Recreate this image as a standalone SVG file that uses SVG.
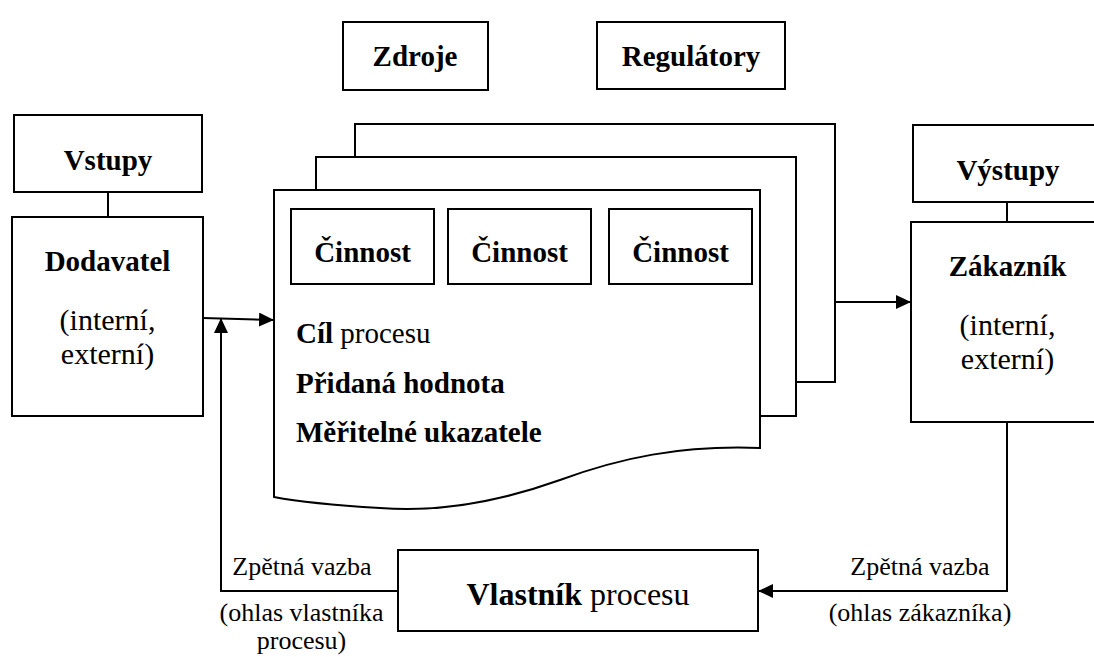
<svg xmlns="http://www.w3.org/2000/svg" width="1094" height="657" viewBox="0 0 1094 657">
<style>
.box{fill:#fff;stroke:#000;stroke-width:2}
.ln{fill:none;stroke:#000;stroke-width:2}
.b{font-family:"Liberation Serif",serif;font-weight:bold;font-size:29px}
.r{font-family:"Liberation Serif",serif;font-size:30px}
.s{font-family:"Liberation Serif",serif;font-size:26px}
.c{text-anchor:middle}
</style>
<defs>
<marker id="ah" markerUnits="userSpaceOnUse" markerWidth="16" markerHeight="14" refX="15" refY="7" orient="auto">
<path d="M0,0 L15,7 L0,14 Z" fill="#000"/>
</marker>
</defs>
<rect width="1094" height="657" fill="#fff"/>
<g id="zdroje">
<rect class="box" x="343" y="22" width="145" height="68"/>
<text class="b c" x="415" y="66">Zdroje</text>
</g>
<g id="regulatory">
<rect class="box" x="597" y="22" width="188" height="67"/>
<text class="b c" x="691" y="66">Regulátory</text>
</g>
<g id="proces">
<rect class="box" x="355" y="124" width="480" height="258"/>
<rect class="box" x="316" y="157" width="480" height="259"/>
<path class="box" d="M274,190 H760 V448 C680,445 620,458 560,480 C490,505 430,512 380,508 C330,505 300,502 274,497 Z"/>
<text class="b" x="296" y="343">Cíl <tspan font-weight="normal">procesu</tspan></text>
<text class="b" x="296" y="393">Přidaná hodnota</text>
<text class="b" x="296" y="442">Měřitelné ukazatele</text>
</g>
<g id="cinnost1">
<rect class="box" x="291" y="209" width="143" height="75"/>
<text class="b c" x="362.5" y="262">Činnost</text>
</g>
<g id="cinnost2">
<rect class="box" x="448" y="209" width="143" height="75"/>
<text class="b c" x="519.5" y="262">Činnost</text>
</g>
<g id="cinnost3">
<rect class="box" x="609" y="209" width="143" height="75"/>
<text class="b c" x="680.5" y="262">Činnost</text>
</g>
<g id="vstupy">
<rect class="box" x="14" y="115" width="188" height="77"/>
<text class="b c" x="108" y="170">Vstupy</text>
</g>
<g id="dodavatel">
<rect class="box" x="12" y="217" width="191" height="199"/>
<text class="b c" x="107.5" y="271">Dodavatel</text>
<text class="r c" x="107.5" y="330">(interní,</text>
<text class="r c" x="107.5" y="364">externí)</text>
</g>
<g id="vystupy">
<rect class="box" x="913" y="125" width="190" height="77"/>
<text class="b c" x="1008" y="180">Výstupy</text>
</g>
<g id="zakaznik">
<rect class="box" x="911" y="222" width="192" height="200"/>
<text class="b c" x="1007.5" y="276">Zákazník</text>
<text class="r c" x="1007.5" y="335">(interní,</text>
<text class="r c" x="1007.5" y="369">externí)</text>
</g>
<g id="vlastnik">
<rect class="box" x="398" y="550" width="360" height="81"/>
<text class="b c" x="578" y="605" style="font-size:32px">Vlastník <tspan font-weight="normal">procesu</tspan></text>
</g>
<g id="connectors">
<line class="ln" x1="108" y1="192" x2="108" y2="217"/>
<line class="ln" x1="1007" y1="202" x2="1007" y2="222"/>
<line class="ln" x1="203" y1="318" x2="274" y2="320" marker-end="url(#ah)"/>
<line class="ln" x1="835" y1="302" x2="911" y2="302" marker-end="url(#ah)"/>
<polyline class="ln" points="1007,422 1007,591 758,591" marker-end="url(#ah)"/>
<polyline class="ln" points="398,591 221,591 221,318" marker-end="url(#ah)"/>
</g>
<g id="labels">
<text class="s c" x="302" y="575">Zpětná vazba</text>
<text class="s c" x="301.5" y="621">(ohlas vlastníka</text>
<text class="s c" x="301.5" y="649">procesu)</text>
<text class="s c" x="920" y="575">Zpětná vazba</text>
<text class="s c" x="920" y="621">(ohlas zákazníka)</text>
</g>
</svg>
